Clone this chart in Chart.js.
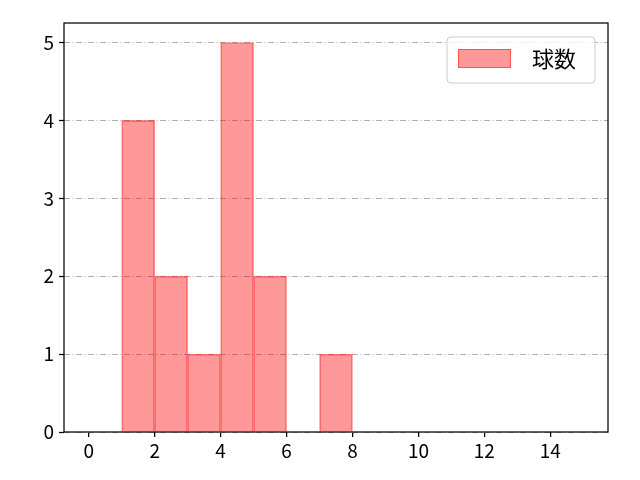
<!DOCTYPE html>
<html>
<head>
<meta charset="utf-8">
<script src="https://cdn.jsdelivr.net/npm/chart.js@4"></script>
<style>
html,body{margin:0;padding:0;background:#fff;}
#wrap{width:640px;height:480px;position:relative;}
</style>
</head>
<body>
<div id="wrap"><canvas id="c" width="640" height="480"></canvas></div>
<script>
const seriesName = "球数";
const binStarts = [1, 2, 3, 4, 5, 6, 7];
const binCounts = [4, 2, 1, 5, 2, 0, 1];
const xTicks = [0, 2, 4, 6, 8, 10, 12, 14];
const yTicks = [0, 1, 2, 3, 4, 5];

const FONT = "'Noto Sans CJK JP', 'Noto Sans', sans-serif";
const fillCol = 'rgba(255,0,0,0.4)';
const edgeCol = 'rgba(255,0,0,0.45)';

const data = binStarts.map((s, i) => ({x: s + 0.5, y: binCounts[i]}));

const framePlugin = {
  id: 'frame',
  afterDraw(chart) {
    const {ctx, chartArea: a} = chart;
    ctx.save();
    ctx.strokeStyle = '#000';
    ctx.lineWidth = 1.25;
    ctx.strokeRect(a.left, a.top, a.right - a.left, a.bottom - a.top);
    // legend
    const bx = 447, by = 37, bw = 148, bh = 46, r = 4;
    ctx.fillStyle = 'rgba(255,255,255,0.8)';
    ctx.strokeStyle = '#cccccc';
    ctx.lineWidth = 1;
    ctx.beginPath();
    ctx.moveTo(bx + r, by);
    ctx.arcTo(bx + bw, by, bx + bw, by + bh, r);
    ctx.arcTo(bx + bw, by + bh, bx, by + bh, r);
    ctx.arcTo(bx, by + bh, bx, by, r);
    ctx.arcTo(bx, by, bx + bw, by, r);
    ctx.closePath();
    ctx.fill();
    ctx.stroke();
    ctx.fillStyle = fillCol;
    ctx.strokeStyle = edgeCol;
    ctx.fillRect(458, 49, 53, 19);
    ctx.strokeRect(458.5, 49.5, 52, 18);
    ctx.fillStyle = '#000';
    ctx.font = "22px " + FONT;
    ctx.textBaseline = 'middle';
    ctx.textAlign = 'left';
    ctx.fillText(seriesName, 532, 59);
    ctx.restore();
  }
};

new Chart(document.getElementById('c'), {
  type: 'bar',
  data: {
    datasets: [{
      label: seriesName,
      data: data,
      backgroundColor: fillCol,
      borderColor: edgeCol,
      borderWidth: 1,
      barPercentage: 1.0,
      categoryPercentage: 1.0,
      grouped: false
    }]
  },
  options: {
    responsive: false,
    animation: false,
    devicePixelRatio: 1,
    layout: {padding: {top: 23, right: 32, left: 0, bottom: 0}},
    plugins: {legend: {display: false}, tooltip: {enabled: false}},
    scales: {
      x: {
        type: 'linear',
        offset: false,
        min: -0.75,
        max: 15.75,
        afterBuildTicks(axis) { axis.ticks = xTicks.map(v => ({value: v})); },
        afterFit(axis) { axis.height = 48; },
        grid: {offset: false, drawOnChartArea: false, drawTicks: true, tickLength: 5, color: '#000', tickColor: '#000', lineWidth: 1.25},
        border: {display: false},
        ticks: {color: '#000', font: {family: FONT, size: 19}, padding: 2, maxRotation: 0}
      },
      y: {
        type: 'linear',
        min: 0,
        max: 5.25,
        afterBuildTicks(axis) { axis.ticks = yTicks.map(v => ({value: v})); },
        afterFit(axis) { axis.width = 64; },
        grid: {drawOnChartArea: true, drawTicks: true, tickLength: 5, color: '#b0b0b0', tickColor: '#000', lineWidth: 1, tickWidth: 1.25, tickBorderDash: []},
        border: {display: false, dash: [6, 2.5, 1, 2.5]},
        ticks: {color: '#000', font: {family: FONT, size: 19}, padding: 5}
      }
    }
  },
  plugins: [framePlugin]
});
</script>
</body>
</html>
